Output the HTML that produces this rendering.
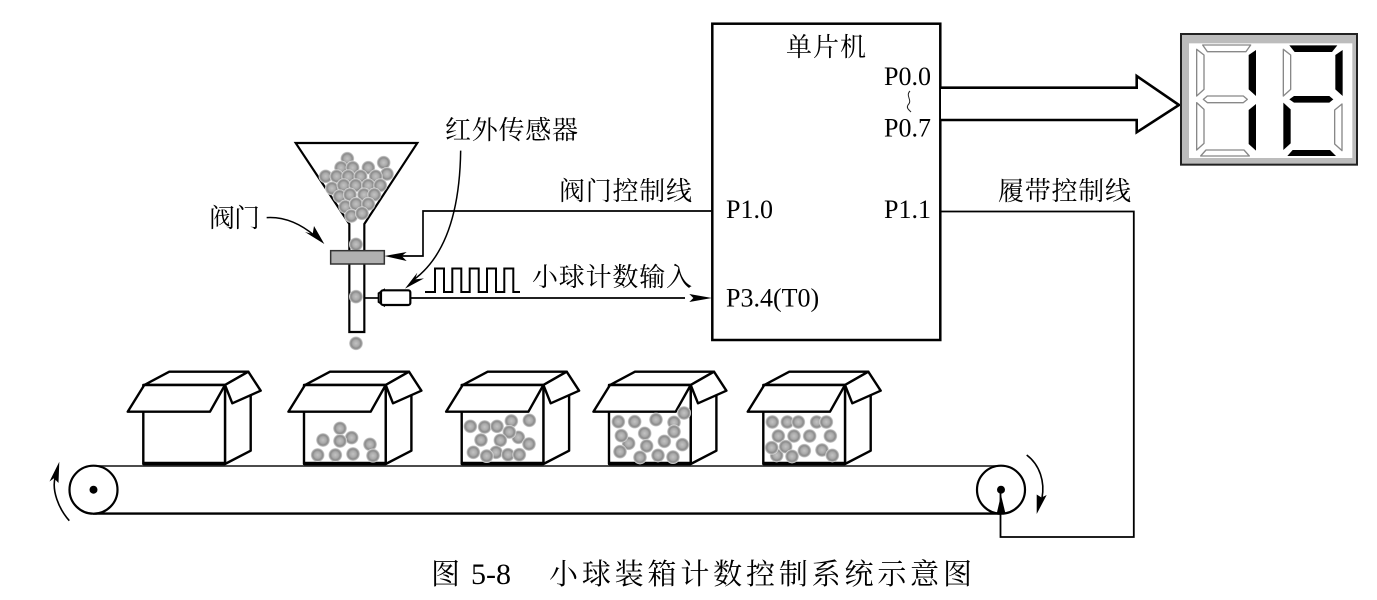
<!DOCTYPE html>
<html><head><meta charset="utf-8"><style>
html,body{margin:0;padding:0;background:#fff;width:1377px;height:600px;overflow:hidden}
svg{display:block;filter:blur(.35px)}
text{font-family:"Liberation Serif","Noto Serif CJK SC",serif;fill:#000}
</style></head><body>
<svg width="1377" height="600" viewBox="0 0 1377 600" xmlns="http://www.w3.org/2000/svg">
<defs>
<radialGradient id="b"><stop offset="0" stop-color="#c2c2c2"/><stop offset=".45" stop-color="#ababab"/><stop offset=".72" stop-color="#8a8a8a"/><stop offset=".88" stop-color="#b0b0b0"/><stop offset="1" stop-color="#eee"/></radialGradient>
<g id="box" fill="#fff" stroke="#000" stroke-width="2.4" stroke-linejoin="round">
<path d="M225 464L250.7 450.7V395L225 385Z"/>
<path d="M143.3 411.7V464H225V385H143.3Z"/>
<path d="M144.3 385L169.3 371.7H248.3L225 385Z"/>
<path d="M127.7 411.7L144.3 385H225L210 411.7Z"/>
<path d="M225 385L248.3 371.7L260.7 390.7L232.3 403.3Z"/>
<path d="M143.3 463.6H225" stroke-width="3.6"/>
</g>
<circle id="c" r="21" fill="url(#b)"/>
</defs>
<rect width="1377" height="600" fill="#fff"/>

<!-- belt -->
<path d="M93 466H1001" stroke="#333" stroke-width="1.8" fill="none"/>
<path d="M93 513.6H1001" stroke="#000" stroke-width="2.4" fill="none"/>
<circle cx="93.5" cy="489.7" r="24" fill="#fff" stroke="#000" stroke-width="2.2"/>
<circle cx="93.5" cy="489.7" r="4" fill="#000"/>
<circle cx="1001" cy="489.7" r="24" fill="#fff" stroke="#000" stroke-width="2.2"/>
<circle cx="1001" cy="489.7" r="4" fill="#000"/>

<!-- boxes -->
<use href="#box"/>
<use href="#box" x="160.7"/>
<use href="#box" x="318.4"/>
<use href="#box" x="465.7"/>
<use href="#box" x="620"/>

<!-- balls box 2 -->
<g transform="translate(30,360) scale(.33333)">
<use href="#c" x="930" y="205"/><use href="#c" x="879" y="240"/><use href="#c" x="965" y="233"/><use href="#c" x="930" y="243"/><use href="#c" x="1020" y="253"/><use href="#c" x="863" y="285"/><use href="#c" x="916" y="285"/><use href="#c" x="969" y="282"/><use href="#c" x="1029" y="287"/>
</g>
<!-- balls box 3, 4 -->
<g transform="translate(430,360) scale(.33333)">
<use href="#c" x="121" y="199"/><use href="#c" x="164" y="201"/><use href="#c" x="201" y="199"/><use href="#c" x="244" y="183"/><use href="#c" x="298" y="181"/><use href="#c" x="265" y="232"/><use href="#c" x="238" y="216"/><use href="#c" x="297" y="252"/><use href="#c" x="153" y="240"/><use href="#c" x="211" y="241"/><use href="#c" x="130" y="277"/><use href="#c" x="198" y="277"/><use href="#c" x="170" y="288"/><use href="#c" x="234" y="284"/><use href="#c" x="268" y="284"/>
<use href="#c" x="565" y="185"/><use href="#c" x="614" y="185"/><use href="#c" x="678" y="179"/><use href="#c" x="732" y="187"/><use href="#c" x="762" y="159"/><use href="#c" x="732" y="215"/><use href="#c" x="596" y="250"/><use href="#c" x="574" y="227"/><use href="#c" x="644" y="220"/><use href="#c" x="703" y="244"/><use href="#c" x="757" y="254"/><use href="#c" x="650" y="258"/><use href="#c" x="570" y="275"/><use href="#c" x="630" y="292"/><use href="#c" x="684" y="286"/><use href="#c" x="729" y="291"/>
</g>
<!-- balls box 5 -->
<g transform="translate(740,360) scale(.33333)">
<use href="#c" x="97" y="186"/><use href="#c" x="142" y="186"/><use href="#c" x="175" y="186"/><use href="#c" x="230" y="186"/><use href="#c" x="259" y="186"/><use href="#c" x="115" y="228"/><use href="#c" x="162" y="228"/><use href="#c" x="209" y="228"/><use href="#c" x="271" y="228"/><use href="#c" x="110" y="286"/><use href="#c" x="95" y="263"/><use href="#c" x="137" y="260"/><use href="#c" x="156" y="289"/><use href="#c" x="193" y="272"/><use href="#c" x="246" y="270"/><use href="#c" x="277" y="286"/>
</g>

<!-- funnel & sensor (zoom coords) -->
<g transform="translate(180,100) scale(.33333)">
<path d="M347 129H712L553 372V696H508V372Z" fill="#fff" stroke="#000" stroke-width="6.5" stroke-linejoin="miter"/>
<use href="#c" x="502" y="176"/><use href="#c" x="611" y="188"/><use href="#c" x="483" y="203"/><use href="#c" x="518" y="203"/><use href="#c" x="565" y="203"/><use href="#c" x="437" y="229"/><use href="#c" x="470" y="229"/><use href="#c" x="505" y="229"/><use href="#c" x="542" y="229"/><use href="#c" x="621" y="222"/><use href="#c" x="587" y="229"/><use href="#c" x="456" y="265"/><use href="#c" x="491" y="256"/><use href="#c" x="527" y="256"/><use href="#c" x="565" y="256"/><use href="#c" x="601" y="256"/><use href="#c" x="479" y="289"/><use href="#c" x="510" y="284"/><use href="#c" x="552" y="284"/><use href="#c" x="583" y="284"/><use href="#c" x="496" y="320"/><use href="#c" x="528" y="312"/><use href="#c" x="565" y="312"/><use href="#c" x="514" y="348"/><use href="#c" x="546" y="340"/>
<use href="#c" x="528" y="433"/><use href="#c" x="528" y="590"/><use href="#c" x="528" y="730"/>
<rect x="452" y="452" width="161" height="40" fill="#b0b0b0" stroke="#333" stroke-width="4.5"/>
<!-- valve line -->
<path d="M1596 333H729V468H650" fill="none" stroke="#000" stroke-width="5"/>
<path d="M613 468L680 456L665 468L680 483Z" fill="#000"/>
<!-- sensor -->
<path d="M553 594H600" stroke="#000" stroke-width="5"/>
<path d="M612 570L596 580V606L612 616Z" fill="#fff" stroke="#000" stroke-width="6"/>
<rect x="603" y="571" width="88" height="44" rx="6" fill="#fff" stroke="#000" stroke-width="6.5"/>
<path d="M691 594H1515" stroke="#000" stroke-width="5"/>
<path d="M1596 594L1528 582L1540 594L1528 606Z" fill="#000"/>
<!-- sensor curve -->
<path d="M842 152C840 300 810 460 700 540" fill="none" stroke="#000" stroke-width="4.5"/>
<path d="M675 566L712 518L705 538L732 535Z" fill="#000"/>
<!-- valve label arrow -->
<path d="M260 353C310 350 360 370 405 408" fill="none" stroke="#000" stroke-width="4.5"/>
<path d="M433 432L375 396L398 402L402 378Z" fill="#000"/>
</g>

<!-- pulse -->
<path d="M425 292H435V268.5H444V292H452.3V268.5H461.3V292H469.7V268.5H478.7V292H487V268.5H496V292H504.3V268.5H513.3V292H520" fill="none" stroke="#000" stroke-width="2"/>

<!-- MCU -->
<rect x="712.3" y="23.7" width="228" height="316.3" fill="#fff" stroke="#000" stroke-width="2.5"/>
<path d="M910 91C905 96 913 100 908 105C906 108 909 110 911 112" fill="none" stroke="#222" stroke-width="1"/>

<!-- P1.1 line -->
<path d="M941 211.5H1133.8V537H1000.5V490" fill="none" stroke="#000" stroke-width="1.8"/>
<path d="M1001 495L996.6 514H1005.6Z" fill="#000"/>

<!-- rotation arrows -->
<path d="M69.3 520.7C58 508 52 490 55 478" fill="none" stroke="#000" stroke-width="1.6"/>
<path d="M59.3 461.7L49.5 481.5L54 478.3L58.5 483Z" fill="#000"/>
<path d="M1026.7 455C1040 465 1045 482 1042 498" fill="none" stroke="#000" stroke-width="1.6"/>
<path d="M1036.7 514L1036.7 494.5L1041.5 497.5L1046.7 495Z" fill="#000"/>

<!-- big arrow -->
<path d="M941 87.7H1136.7V76L1179 105L1136.7 132.3V120H941" fill="#fff" stroke="#000" stroke-width="2.6" stroke-linejoin="miter"/>

<!-- display -->
<g transform="translate(1120,20) scale(.33333)">
<rect x="183" y="42" width="528" height="392" fill="#bcbcbc" stroke="#222" stroke-width="6"/>
<rect x="207" y="70" width="490" height="344" fill="#fff"/>
<g fill="#fff" stroke="#888" stroke-width="4" stroke-linejoin="round">
<path d="M248 75H392L378 95H262Z"/>
<path d="M230 88L252 105V208L230 228Z"/>
<path d="M250 238L262 228H370L382 238L370 248H262Z"/>
<path d="M230 248L252 268V370L230 390Z"/>
<path d="M258 390H372L388 408H242Z"/>
<path d="M490 88L512 105V208L490 228Z"/>
<path d="M666 252V392L644 372V270Z"/>
</g>
<g fill="#000">
<path d="M408 90V228L386 208V105Z"/>
<path d="M408 252V392L386 372V270Z"/>
<path d="M508 76H652L636 96H524Z"/>
<path d="M668 90V228L646 208V105Z"/>
<path d="M508 238L522 228H628L640 238L628 248H522Z"/>
<path d="M490 248L512 268V370L490 390Z"/>
<path d="M502 408L518 390H630L648 408Z"/>
</g>
</g>

<!-- text -->
<g font-size="26">
<text x="884" y="85">P0.0</text>
<text x="884" y="136.7">P0.7</text>
<text x="726" y="218">P1.0</text>
<text x="884" y="218">P1.1</text>
<text x="726" y="306.5">P3.4(T0)</text>
</g>
<g font-size="26">
<text x="786" y="56" textLength="80" lengthAdjust="spacing">单片机</text>
<text x="445" y="139" textLength="133" lengthAdjust="spacing">红外传感器</text>
<text x="209" y="227" textLength="51" lengthAdjust="spacing">阀门</text>
<text x="559" y="200" textLength="133" lengthAdjust="spacing">阀门控制线</text>
<text x="998" y="200" textLength="133" lengthAdjust="spacing">履带控制线</text>
<text x="532" y="286" textLength="160" lengthAdjust="spacing">小球计数输入</text>
</g>
<g font-size="29">
<text x="431" y="584">图</text>
<text x="471" y="584" font-size="30">5-8</text>
<text x="549" y="584" textLength="423" lengthAdjust="spacing">小球装箱计数控制系统示意图</text>
</g>
</svg>
</body></html>
